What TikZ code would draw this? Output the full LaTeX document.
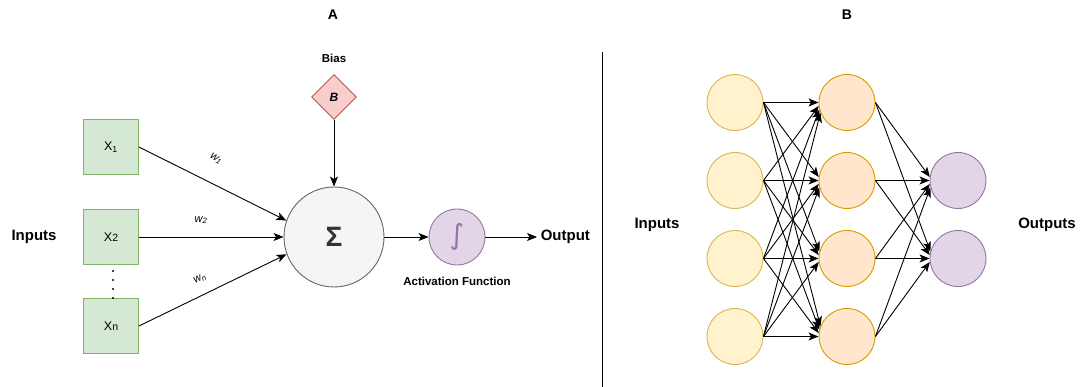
\documentclass[tikz,border=0pt]{standalone}
\usepackage{fontspec}
\setmainfont{Liberation Sans}
\newfontfamily\symfont{DejaVu Sans}
\usetikzlibrary{arrows.meta,shapes.geometric}

\definecolor{greenF}{HTML}{D5E8D4}
\definecolor{greenS}{HTML}{82B366}
\definecolor{redF}{HTML}{F8CECC}
\definecolor{redS}{HTML}{B85450}
\definecolor{greyF}{HTML}{F5F5F5}
\definecolor{greyS}{HTML}{666666}
\definecolor{purpleF}{HTML}{E1D5E7}
\definecolor{purpleS}{HTML}{9673A6}
\definecolor{yellowF}{HTML}{FFF2CC}
\definecolor{yellowS}{HTML}{D6B656}
\definecolor{orangeF}{HTML}{FFE6CC}
\definecolor{orangeS}{HTML}{D79B00}
\definecolor{sigmaC}{HTML}{333333}

\begin{document}
\begin{tikzpicture}[x=1pt,y=-1pt,line width=0.9pt,
  arr/.style={-{Stealth[length=10pt,width=8pt,inset=2.5pt]}},
  title/.style={font=\fontsize{14}{16}\selectfont\bfseries},
  big/.style={font=\fontsize{15}{18}\selectfont\bfseries},
  lbl/.style={font=\fontsize{11.5}{13}\selectfont\bfseries},
  wlbl/.style={font=\fontsize{11}{12}\selectfont\itshape, inner sep=1pt},
  inbox/.style={draw=greenS, fill=greenF, minimum size=55pt, inner sep=0pt,
    font=\fontsize{12.5}{14}\selectfont},
  biasbox/.style={diamond, aspect=1, draw=redS, fill=redF, minimum width=45pt,
    minimum height=45pt, inner sep=0pt, font=\fontsize{12}{14}\selectfont\bfseries\itshape},
  sumnode/.style={circle, draw=greyS, fill=greyF, minimum size=100pt, inner sep=0pt,
    text=sigmaC, font=\fontsize{28}{30}\selectfont\bfseries},
  actnode/.style={circle, draw=purpleS, fill=purpleF, minimum size=56pt, inner sep=0pt,
    text=purpleS, font=\symfont\fontsize{28}{30}\selectfont},
  inneuron/.style={circle, draw=yellowS, fill=yellowF, minimum size=56pt, inner sep=0pt},
  hidneuron/.style={circle, draw=orangeS, fill=orangeF, minimum size=56pt, inner sep=0pt},
  outneuron/.style={circle, draw=purpleS, fill=purpleF, minimum size=56pt, inner sep=0pt}]
\useasboundingbox (0,0) rectangle (1082,387);

% panel titles and separator
\node[title] (tA) at (333,15) {A};
\node[title] (tB) at (847,15) {B};
\coordinate (sepTop) at (602,52);
\coordinate (sepBot) at (602,387);
\draw (sepTop) -- (sepBot);

% ---------- single neuron ----------
\node[big] (inA) at (34,237) {Inputs};
\node[inbox] (x1) at (111,147) {X\textsubscript{1}};
\node[inbox] (x2) at (111,237) {X{\fontsize{10.5}{12}\selectfont 2}};
\node[inbox] (xn) at (111,326) {X{\fontsize{10.5}{12}\selectfont n}};
\foreach \yy in {271,280,289,298} \fill (113,\yy) circle (1.2);

\node[sumnode] (s) at (334,237) {Σ};
\node[biasbox] (b) at (334,97) {B};
\node[lbl] (bl) at (334,58) {Bias};
\node[actnode] (f) at (457,237) {∫};
\node[lbl] (fl) at (457,281) {Activation Function};
\node[big, anchor=west] (out) at (537,237) {Output};

\draw[arr] (x1.east) -- (s.161);
\draw[arr] (x2.east) -- (s.west);
\draw[arr] (xn.east) -- (s.200);
\draw[arr] (b.south) -- (s.north);
\draw[arr] (s.east) -- (f.west);
\draw[arr] (f.east) -- (out.west);

\node[wlbl, rotate=-33] (w1) at (216,159) {w\textsubscript{1}};
\node[wlbl] (w2) at (201,220) {w\textsubscript{2}};
\node[wlbl, rotate=27] (wn) at (200,279) {w\textsubscript{n}};

% ---------- network ----------
\node[big] (inB) at (657,225) {Inputs};
\node[big] (outB) at (1047,225) {Outputs};
\foreach \k/\yy in {1/102.5,2/180.5,3/258.5,4/336.5} {
  \node[inneuron] (i\k) at (735,\yy) {};
  \node[hidneuron] (h\k) at (847,\yy) {};
}
\node[outneuron] (o1) at (958,180.5) {};
\node[outneuron] (o2) at (958,258.5) {};

\foreach \i in {1,...,4} {
  \foreach \j in {1,...,4} {
    \pgfmathtruncatemacro\ang{180+7*(\i-\j)}
    \draw[arr] (i\i.east) -- (h\j.\ang);
  }
  \foreach \j/\r in {1/2,2/3} {
    \pgfmathtruncatemacro\ang{180+7*(\i-\r)}
    \draw[arr] (h\i.east) -- (o\j.\ang);
  }
}
\end{tikzpicture}
\end{document}
